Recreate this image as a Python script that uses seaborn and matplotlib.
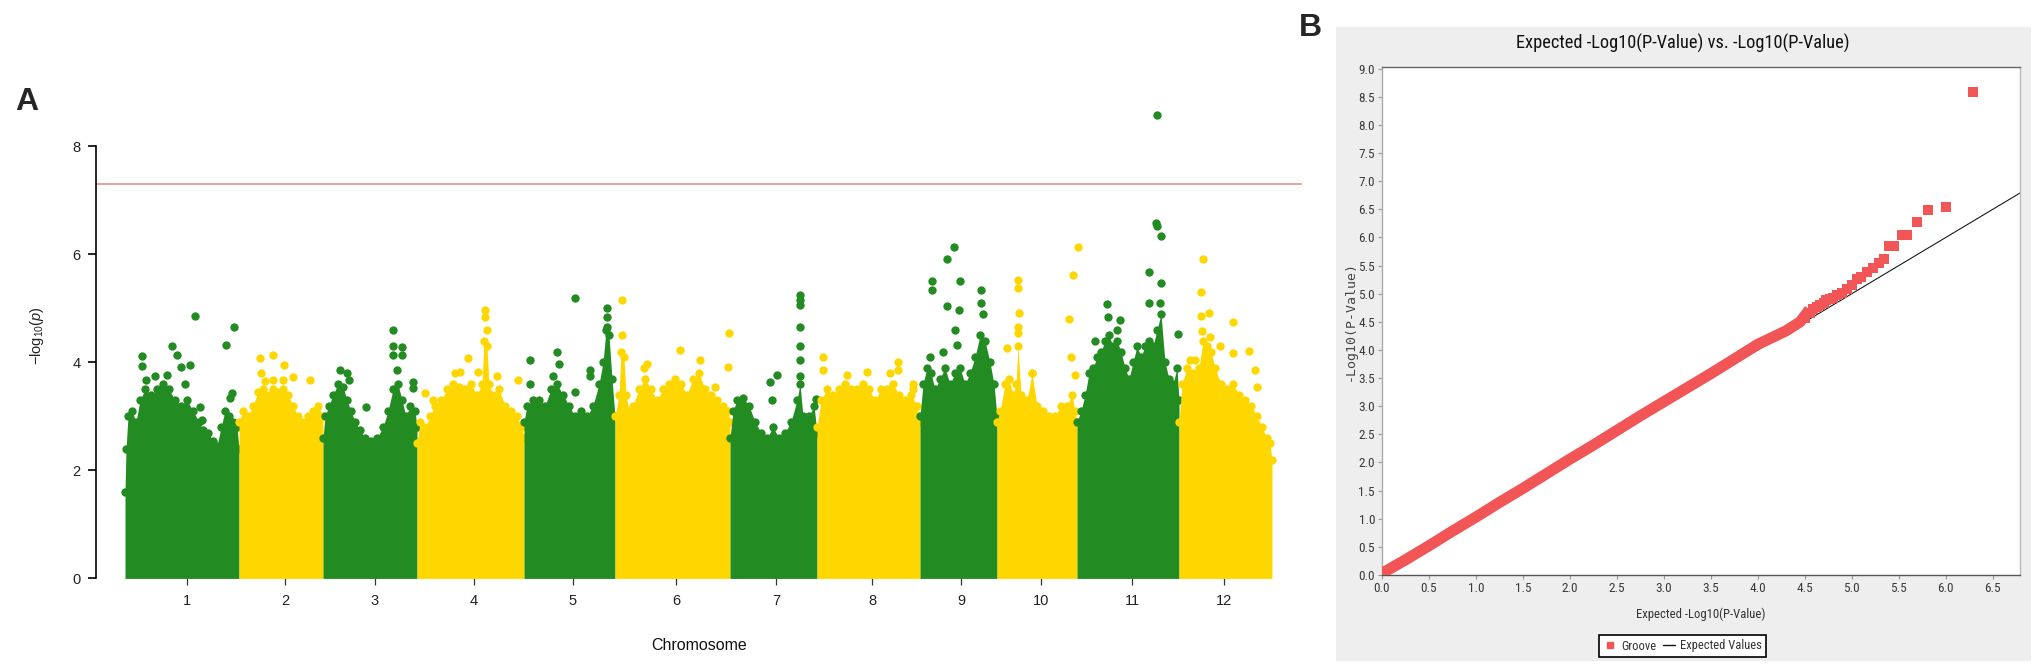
import numpy as np
import pandas as pd
import seaborn as sns
import matplotlib
matplotlib.use("Agg")
import matplotlib.pyplot as plt
from matplotlib import font_manager as fm
from matplotlib.lines import Line2D
from matplotlib.patches import Rectangle

# ---------------- Manhattan plot (A) ----------------
chrom_names = ["1", "2", "3", "4", "5", "6", "7", "8", "9", "10", "11", "12"]
chrom_ticks = [62, 160, 250, 349, 448, 551, 651, 747, 836, 916, 1007, 1099]
threshold = 7.3  # -log10(5e-8)

# upper edge of the dense cloud of each chromosome (position, -log10 p)
chr1_env = [(0, 1.6), (1, 2.4), (3, 3.0), (7, 3.1), (11, 2.9), (15, 3.3), (20, 3.5), (26, 3.4), (32, 3.5),
            (38, 3.6), (44, 3.5), (50, 3.3), (56, 3.2), (62, 3.3), (68, 3.1), (74, 2.9), (78, 2.75), (83, 2.7),
            (88, 2.55), (92, 2.45), (96, 2.8), (100, 3.1), (104, 3.0), (108, 2.9), (112, 2.8), (114, 2.4)]
chr2_env = [(114, 2.9), (118, 3.1), (123, 3.0), (128, 3.2), (133, 3.45), (138, 3.5), (143, 3.4), (148, 3.5),
            (153, 3.45), (158, 3.5), (163, 3.4), (168, 3.2), (173, 3.0), (178, 2.9), (183, 3.0), (188, 3.1),
            (193, 3.2), (198, 3.0)]
chr3_env = [(198, 2.6), (200, 3.0), (204, 3.2), (208, 3.4), (213, 3.6), (218, 3.55), (222, 3.3), (226, 3.1),
            (230, 2.9), (235, 2.75), (240, 2.6), (246, 2.55), (252, 2.6), (258, 2.8), (263, 3.1), (268, 3.5),
            (273, 3.6), (277, 3.3), (281, 3.0), (285, 3.2), (290, 3.1), (292, 2.8)]
chr4_env = [(292, 2.5), (295, 2.9), (300, 2.8), (305, 3.0), (310, 3.2), (316, 3.3), (322, 3.5), (328, 3.6),
            (334, 3.55), (340, 3.5), (346, 3.6), (352, 3.4), (357, 3.6), (359, 4.4), (362, 4.3), (364, 3.6),
            (368, 3.4), (374, 3.5), (380, 3.2), (386, 3.1), (392, 3.0), (397, 2.8), (399, 2.6)]
chr5_env = [(399, 2.9), (402, 3.2), (408, 3.3), (414, 3.3), (420, 3.2), (426, 3.5), (432, 3.6), (438, 3.4),
            (444, 3.2), (450, 3.0), (456, 3.1), (462, 3.0), (468, 3.2), (474, 3.6), (478, 4.0), (481, 4.6),
            (484, 4.5), (487, 3.7), (490, 3.0)]
chr6_env = [(490, 3.0), (494, 3.4), (496, 4.2), (499, 4.1), (501, 3.4), (504, 3.1), (508, 3.2), (514, 3.5),
            (520, 3.7), (526, 3.5), (532, 3.3), (538, 3.5), (544, 3.6), (550, 3.7), (556, 3.6), (562, 3.4),
            (568, 3.7), (574, 3.8), (580, 3.5), (586, 3.4), (592, 3.3), (598, 3.2), (603, 3.1), (605, 2.9)]
chr7_env = [(605, 2.6), (608, 3.1), (612, 3.3), (618, 3.35), (624, 3.2), (630, 2.9), (636, 2.7), (642, 2.6),
            (648, 2.8), (654, 2.6), (660, 2.7), (666, 2.9), (672, 3.3), (675, 3.6), (678, 3.0), (684, 3.0),
            (689, 3.2), (692, 2.7)]
chr8_env = [(692, 2.8), (696, 3.3), (702, 3.5), (708, 3.4), (714, 3.5), (720, 3.6), (726, 3.5), (732, 3.5),
            (738, 3.6), (744, 3.5), (750, 3.3), (756, 3.5), (762, 3.5), (768, 3.6), (774, 3.4), (780, 3.3),
            (786, 3.4), (792, 3.2), (795, 2.9)]
chr9_env = [(795, 3.0), (798, 3.6), (802, 3.9), (806, 3.8), (810, 3.5), (815, 3.7), (820, 3.9), (825, 3.6),
            (830, 3.8), (835, 3.9), (840, 3.6), (845, 3.8), (850, 4.1), (855, 4.5), (860, 4.4), (865, 4.0),
            (869, 3.6), (872, 3.0)]
chr10_env = [(872, 2.9), (875, 3.1), (880, 3.6), (884, 3.7), (888, 3.4), (891, 3.6), (893, 4.3), (896, 3.4),
             (902, 3.3), (907, 3.8), (912, 3.2), (918, 3.1), (924, 3.0), (930, 3.0), (936, 3.2), (942, 3.2),
             (947, 3.4), (950, 3.1), (952, 2.9)]
chr11_env = [(952, 2.9), (956, 3.1), (960, 3.4), (964, 3.8), (968, 3.9), (972, 4.1), (976, 4.2), (980, 4.4),
             (984, 4.5), (988, 4.3), (992, 4.4), (996, 4.2), (1000, 3.9), (1004, 3.7), (1008, 4.0), (1012, 4.3),
             (1016, 4.1), (1020, 4.3), (1024, 4.4), (1028, 4.3), (1032, 4.6), (1036, 4.9), (1040, 4.0),
             (1044, 3.7), (1048, 3.6), (1052, 3.9), (1054, 3.3)]
chr12_env = [(1054, 2.9), (1057, 3.6), (1062, 3.9), (1068, 3.8), (1074, 3.9), (1078, 4.4), (1082, 4.3),
             (1086, 4.2), (1090, 3.9), (1096, 3.6), (1102, 3.5), (1108, 3.6), (1114, 3.4), (1120, 3.3),
             (1126, 3.2), (1132, 3.0), (1137, 2.8), (1142, 2.6), (1145, 2.5), (1147, 2.2)]

# isolated SNPs above the cloud
chr1_top = [(17, 4.12), (17, 3.93), (21, 3.68), (42, 3.77), (47, 4.31), (52, 4.14), (56, 3.92), (65, 3.95),
            (70, 4.86), (38, 3.43), (101, 4.32), (109, 4.65), (107, 3.43), (105, 3.34), (75, 3.18), (77, 2.94),
            (30, 3.75), (60, 3.6)]
chr2_top = [(135, 4.08), (148, 4.13), (159, 3.95), (158, 3.67), (148, 3.68), (168, 3.73), (185, 3.67),
            (136, 3.8), (140, 3.65)]
chr3_top = [(215, 3.86), (222, 3.8), (224, 3.67), (241, 3.18), (268, 4.6), (268, 4.3), (268, 4.14),
            (277, 4.29), (277, 4.14), (272, 3.86), (288, 3.64), (288, 3.52)]
chr4_top = [(360, 4.97), (360, 4.85), (362, 4.6), (343, 4.08), (330, 3.8), (335, 3.83), (372, 3.74),
            (393, 3.67), (353, 3.83), (300, 3.43), (308, 3.3)]
chr5_top = [(405, 4.05), (405, 3.6), (432, 4.2), (434, 3.98), (428, 3.75), (450, 5.2), (450, 3.46),
            (465, 3.86), (465, 3.74), (482, 5.0), (482, 4.85), (482, 4.66)]
chr6_top = [(497, 5.16), (497, 4.5), (522, 3.97), (519, 3.9), (555, 4.23), (575, 4.05), (604, 4.55),
            (603, 3.92), (590, 3.55)]
chr7_top = [(645, 3.64), (652, 3.77), (647, 3.3), (675, 5.25), (675, 5.16), (675, 5.07), (675, 4.66),
            (675, 4.3), (675, 4.05), (675, 3.74), (691, 3.33)]
chr8_top = [(698, 4.1), (698, 3.86), (722, 3.77), (742, 3.83), (765, 3.8), (773, 3.86), (773, 4.0),
            (788, 3.6), (788, 3.5)]
chr9_top = [(807, 5.5), (807, 5.34), (822, 5.92), (829, 6.14), (835, 5.5), (822, 5.05), (834, 4.97),
            (856, 5.34), (856, 5.1), (858, 4.9), (830, 4.6), (805, 4.1), (818, 4.2), (832, 4.33)]
chr10_top = [(893, 5.53), (893, 5.37), (894, 4.91), (893, 4.66), (893, 4.54), (882, 4.26), (953, 6.14),
             (948, 5.62), (944, 4.8), (946, 4.1), (950, 3.77), (907, 3.8)]
chr11_top = [(1032, 8.59), (1031, 6.58), (1032, 6.52), (1036, 6.34), (1024, 5.68), (1036, 5.48), (1035, 5.11),
             (1024, 5.1), (982, 5.08), (995, 4.79), (983, 4.85), (970, 4.4), (1053, 4.52), (992, 4.6)]
chr12_top = [(1078, 5.92), (1076, 5.3), (1076, 4.86), (1084, 4.91), (1108, 4.74), (1077, 4.58), (1085, 4.48),
             (1108, 4.17), (1124, 4.21), (1130, 3.86), (1132, 3.54), (1095, 4.3), (1065, 4.05), (1070, 4.05)]

# ---------------- QQ plot (B) ----------------
qq_band_exp = [0.0, 0.25, 0.5, 0.75, 1.0, 1.25, 1.5, 1.75, 2.0, 2.25, 2.5, 2.75, 3.0, 3.25, 3.5, 3.75,
               4.0, 4.15, 4.3, 4.45, 4.55]
qq_band_obs = [0.03, 0.27, 0.52, 0.78, 1.03, 1.29, 1.54, 1.8, 2.06, 2.31, 2.57, 2.83, 3.08, 3.33, 3.58, 3.84,
               4.1, 4.22, 4.34, 4.5, 4.72]
qq_tail_exp = [4.5, 4.55, 4.59, 4.63, 4.66, 4.7, 4.73, 4.77, 4.8, 4.84, 4.9, 4.95, 5.0, 5.05, 5.1, 5.16,
               5.23, 5.29, 5.34, 5.40, 5.45, 5.53, 5.59, 5.69, 5.81, 6.00, 6.29]
qq_tail_obs = [4.56, 4.65, 4.72, 4.76, 4.8, 4.84, 4.88, 4.9, 4.93, 4.97, 5.02, 5.09, 5.15, 5.27, 5.3, 5.39,
               5.45, 5.54, 5.62, 5.84, 5.84, 6.05, 6.05, 6.28, 6.48, 6.54, 8.58]

green, gold = "#228B22", "#FFD700"
qq_red = "#f25555"


def pick(fams):
    for f in fams:
        try:
            fm.findfont(fm.FontProperties(family=f), fallback_to_default=False)
            return f
        except ValueError:
            pass
    return "DejaVu Sans"


sns.set_theme(style="white")
plt.rcParams["font.family"] = ["Liberation Sans", "DejaVu Sans"]
plt.rcParams["mathtext.fontset"] = "custom"
plt.rcParams["mathtext.rm"] = "Liberation Sans"
plt.rcParams["mathtext.it"] = "Liberation Sans:italic"
narrow = pick(["Liberation Sans Narrow", "Roboto Condensed", "DejaVu Sans Condensed", "Open Sans Condensed"])

W, H = 2033, 667
fig = plt.figure(figsize=(W / 100, H / 100), dpi=100)


def box(l, t, r, b):
    return [l / W, 1 - b / H, (r - l) / W, (b - t) / H]


# ---------- A ----------
ax = fig.add_axes(box(96, 95.5, 1302, 597))
envs = [chr1_env, chr2_env, chr3_env, chr4_env, chr5_env, chr6_env,
        chr7_env, chr8_env, chr9_env, chr10_env, chr11_env, chr12_env]
tops = [chr1_top, chr2_top, chr3_top, chr4_top, chr5_top, chr6_top,
        chr7_top, chr8_top, chr9_top, chr10_top, chr11_top, chr12_top]
for i, (env, top) in enumerate(zip(envs, tops)):
    col = green if i % 2 == 0 else gold
    ex, ey = zip(*env)
    ax.fill_between(ex, 0, ey, color=col, lw=0, zorder=2 + i * 0.1)
    df = pd.DataFrame(env + top, columns=["pos", "logp"])
    sns.scatterplot(data=df, x="pos", y="logp", color=col, s=36, linewidth=0, ax=ax,
                    zorder=2.05 + i * 0.1, legend=False)

ax.axhline(threshold, color="#e8a0a0", lw=1.4, zorder=1)
ax.set_xlim(-29, 1177)
ax.set_ylim(-0.344, 8.944)
for s in ["top", "right", "bottom"]:
    ax.spines[s].set_visible(False)
ax.spines["left"].set_bounds(0, 8)
ax.spines["left"].set_color("black")
ax.spines["left"].set_linewidth(1.2)
ax.spines["bottom"].set_position(("data", 0))
ax.set_yticks([0, 2, 4, 6, 8])
ax.set_yticklabels(["0", "2", "4", "6", "8"])
ax.set_xticks(chrom_ticks)
ax.set_xticklabels(chrom_names)
ax.tick_params(axis="y", direction="out", length=6, width=1.2, color="black", labelsize=10.5, pad=5,
               left=True, labelcolor="#222222")
ax.tick_params(axis="x", direction="out", length=5, width=0.9, color="#333333", labelsize=10.5, pad=6,
               bottom=True, labelcolor="#222222")
ax.set_xlabel("")
ax.set_ylabel("")
ax.grid(False)

fig.text(37 / W, 1 - 336 / H, r"$-\mathrm{log}_{10}(\mathit{p})$", rotation=90, ha="center", va="center",
         fontsize=10.5, color="#222222")
fig.text(699 / W, 1 - 650.5 / H, "Chromosome", ha="center", va="baseline", fontsize=11.5, color="#111111")
fig.text(27 / W, 1 - 110 / H, "A", ha="center", va="baseline", fontsize=23, weight="bold")
fig.text(1310 / W, 1 - 36 / H, "B", ha="center", va="baseline", fontsize=23, weight="bold")

# ---------- B ----------
fig.patches.append(Rectangle((1336 / W, 1 - 661 / H), (2031 - 1336) / W, (661 - 27) / H,
                             transform=fig.transFigure, facecolor="#eeeeee", edgecolor="none", zorder=-5))
bx = fig.add_axes(box(1382, 67, 2020, 575))
bx.set_zorder(2)
bx.set_facecolor("white")
bx.axline((0, 0), slope=1, color="#1a1a1a", lw=0.8, zorder=2)
sns.lineplot(x=qq_band_exp, y=qq_band_obs, color=qq_red, lw=8, ax=bx, sort=False, zorder=3,
             solid_capstyle="butt", legend=False)
sns.scatterplot(x=qq_tail_exp, y=qq_tail_obs, marker="s", s=42, color=qq_red, linewidth=0, ax=bx,
                zorder=4, legend=False)
bx.set_xlim(0, 6.79)
bx.set_ylim(0, 9.03)
xt = np.arange(0, 6.51, 0.5)
yt = np.arange(0, 9.01, 0.5)
bx.set_xticks(xt)
bx.set_xticklabels([f"{v:.1f}" for v in xt])
bx.set_yticks(yt)
bx.set_yticklabels([f"{v:.1f}" for v in yt])
bx.tick_params(direction="out", length=3, width=0.8, color="#999999", labelsize=9.5, labelcolor="#3a3a3a",
               pad=2, left=True, bottom=True)
for lab in bx.get_xticklabels() + bx.get_yticklabels():
    lab.set_family(narrow)
bx.spines["top"].set_color("#666666")
bx.spines["bottom"].set_color("#555555")
bx.spines["left"].set_color("#aaaaaa")
bx.spines["right"].set_color("#bbbbbb")
for s in bx.spines.values():
    s.set_linewidth(1.0)
bx.grid(False)
bx.set_xlabel("")
bx.set_ylabel("")

t_title = fig.text(1683 / W, 1 - 49 / H, "Expected -Log10(P-Value) vs. -Log10(P-Value)", ha="center",
                   va="baseline", fontsize=13, family=narrow, color="#111111")
t_xlab = fig.text(1701 / W, 1 - 618 / H, "Expected -Log10(P-Value)", ha="center", va="baseline",
                  fontsize=10, family=narrow, color="#333333")
fig.text(1350 / W, 1 - 321 / H, "-Log10(P-Value)", rotation=90, ha="center", va="center", fontsize=9.5,
         family="DejaVu Sans Mono", color="#444444")


def fit_width(t, target):
    r = fig.canvas.get_renderer()
    w = t.get_window_extent(r).width
    t.set_fontsize(t.get_fontsize() * target / w)


fit_width(t_title, 332)
fit_width(t_xlab, 128)

handles = [Line2D([], [], marker="s", color=qq_red, ls="none", markersize=5),
           Line2D([], [], color="#111111", lw=1)]
leg = fig.legend(handles, ["Groove", "Expected Values"], loc="center", ncol=2,
                 bbox_to_anchor=(1683 / W, 1 - 646 / H), frameon=True, fancybox=False, edgecolor="black",
                 framealpha=1, facecolor="white", handlelength=1.0, handletextpad=0.4, columnspacing=0.5,
                 borderpad=0.35, prop={"family": narrow, "size": 9})
leg.get_frame().set_linewidth(1.2)
for txt in leg.get_texts():
    txt.set_color("#333333")

fig.savefig("out.png", dpi=100)
